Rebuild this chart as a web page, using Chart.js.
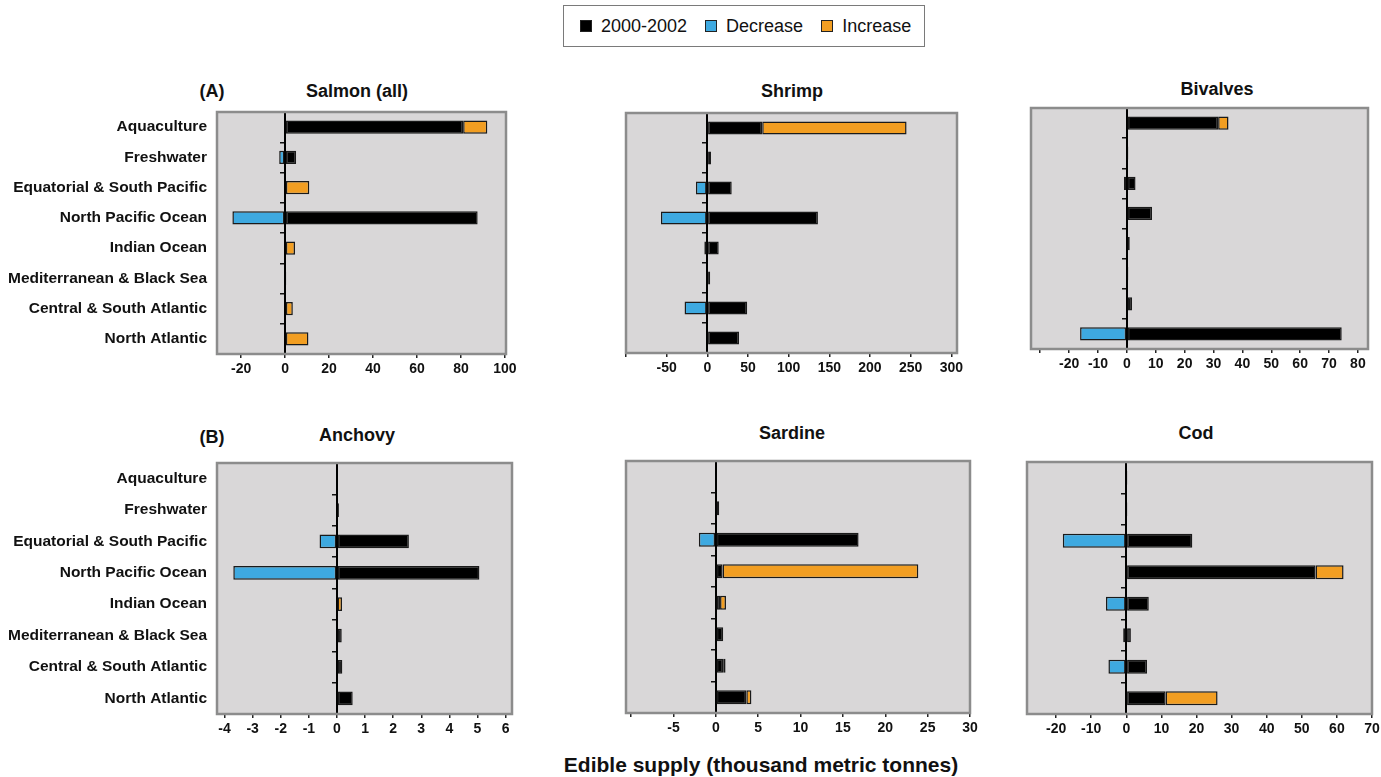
<!DOCTYPE html>
<html>
<head>
<meta charset="utf-8">
<script src="https://cdn.jsdelivr.net/npm/chart.js@4.4.0/dist/chart.umd.min.js"></script>
<style>
    body { margin: 0; width: 1381px; height: 777px; background: #fff; position: relative; overflow: hidden;
           font-family: "Liberation Sans", Arial, sans-serif; color: #111; }
    canvas { position: absolute; }
    .ttl { position: absolute; font-weight: bold; font-size: 18px; transform: translate(-50%, -50%); white-space: nowrap; }
    .cap { font-size: 21px; }
    #legend { position: absolute; left: 563px; top: 5px; width: 362px; height: 42px; box-sizing: border-box;
              border: 1.5px solid #7a7a7a; display: flex; align-items: center; padding-left: 16px; font-size: 18px;
              white-space: nowrap; }
    #legend .sq { display: inline-block; width: 10px; height: 10px; border: 1px solid #222; margin-right: 9px; flex: none; }
    #legend .it { display: flex; align-items: center; margin-right: 18px; flex: none; }
</style>
</head>
<body>

<div id="legend">
    <span class="it"><span class="sq" style="background:#000"></span>2000-2002</span>
    <span class="it"><span class="sq" style="background:#3ea9e0"></span>Decrease</span>
    <span class="it"><span class="sq" style="background:#f29e22"></span>Increase</span>
</div>

<div class="ttl" style="left:212px;top:91px">(A)</div>
<div class="ttl" style="left:357px;top:91px">Salmon (all)</div>
<div class="ttl" style="left:792px;top:91px">Shrimp</div>
<div class="ttl" style="left:1217px;top:89px">Bivalves</div>
<div class="ttl" style="left:212px;top:437px">(B)</div>
<div class="ttl" style="left:357px;top:435px">Anchovy</div>
<div class="ttl" style="left:792px;top:433px">Sardine</div>
<div class="ttl" style="left:1196px;top:433px">Cod</div>
<div class="ttl cap" style="left:761px;top:765px">Edible supply (thousand metric tonnes)</div>

<script>
    // 지역 (위에서 아래 순서)
    var categories = ['Aquaculture', 'Freshwater', 'Equatorial & South Pacific', 'North Pacific Ocean',
                      'Indian Ocean', 'Mediterranean & Black Sea', 'Central & South Atlantic', 'North Atlantic'];

    // 2000-2002 / Increase / Decrease
    var salmonBase     = [81, 5, 0, 87.6, 0, 0.5, 0, 0];
    var salmonIncrease = [11, 0, 11, 0, 4.5, 0, 3.5, 10.6];
    var salmonDecrease = [0, -2.7, 0, -24, 0, 0, 0, 0];

    var shrimpBase     = [67.5, 4.5, 30, 136, 14, 3.5, 49, 39];
    var shrimpIncrease = [177.5, 0, 0, 0, 0, 0, 0, 0];
    var shrimpDecrease = [0, 0, -14, -57, -3.7, -1.5, -28, 0];

    var bivalvesBase     = [31.6, 0.5, 3, 8.7, 1, 0.5, 1.8, 74.4];
    var bivalvesIncrease = [3.6, 0, 0, 0, 0, 0, 0, 0];
    var bivalvesDecrease = [0, 0, -1, 0, 0, 0, 0, -16.2];

    var anchovyBase     = [0, 0.07, 2.56, 5.07, 0.02, 0.17, 0.19, 0.56];
    var anchovyIncrease = [0, 0, 0, 0, 0.16, 0, 0, 0];
    var anchovyDecrease = [0, 0, -0.62, -3.69, 0, 0, 0, 0];

    var sardineBase     = [0, 0, 16.85, 0.8, 0.5, 0.87, 0.87, 3.6];
    var sardineIncrease = [0, 0.4, 0, 23.1, 0.7, 0, 0.28, 0.6];
    var sardineDecrease = [0, 0, -2, 0, 0, 0, 0, 0];

    var codBase     = [0.3, 0.3, 18.8, 53.9, 6.4, 1.3, 5.9, 11.2];
    var codIncrease = [0, 0, 0, 8, 0, 0, 0, 14.8];
    var codDecrease = [0, 0, -18.1, 0, -5.8, -0.9, -5.1, 0];

    // x축 눈금
    var salmonTicks   = [-20, 0, 20, 40, 60, 80, 100];
    var shrimpTicks   = [-100, -50, 0, 50, 100, 150, 200, 250, 300];
    var bivalvesTicks = [-30, -20, -10, 0, 10, 20, 30, 40, 50, 60, 70, 80];
    var anchovyTicks  = [-4, -3, -2, -1, 0, 1, 2, 3, 4, 5, 6];
    var sardineTicks  = [-10, -5, 0, 5, 10, 15, 20, 25, 30];
    var codTicks      = [-20, -10, 0, 10, 20, 30, 40, 50, 60, 70];

    // 패널 배치 (box = 플롯 영역 left, top, right, bottom)
    var panels = [
        { base: salmonBase, inc: salmonIncrease, dec: salmonDecrease, ticks: salmonTicks, min: -31, max: 100.5, labels: true, box: [217, 112, 506, 354] },
        { base: shrimpBase, inc: shrimpIncrease, dec: shrimpDecrease, ticks: shrimpTicks, min: -100, max: 307, blank: -100, box: [626, 113, 957, 353] },
        { base: bivalvesBase, inc: bivalvesIncrease, dec: bivalvesDecrease, ticks: bivalvesTicks, min: -33.2, max: 83.5, blank: -30, box: [1031, 108, 1368, 349] },
        { base: anchovyBase, inc: anchovyIncrease, dec: anchovyDecrease, ticks: anchovyTicks, min: -4.27, max: 6.23, labels: true, box: [217, 463, 512, 714] },
        { base: sardineBase, inc: sardineIncrease, dec: sardineDecrease, ticks: sardineTicks, min: -10.6, max: 30, blank: -10, box: [626, 461, 970, 713] },
        { base: codBase, inc: codIncrease, dec: codDecrease, ticks: codTicks, min: -28.3, max: 70, box: [1027, 462, 1372, 714] }
    ];

    // 회색 플롯 배경 + 테두리
    var plotBox = {
        id: 'plotBox',
        beforeDraw: function(chart) {
            var a = chart.chartArea, ctx = chart.ctx;
            ctx.save();
            ctx.fillStyle = '#d9d7d8';
            ctx.fillRect(a.left, a.top, a.right - a.left, a.bottom - a.top);
            ctx.restore();
        },
        afterDraw: function(chart) {
            var a = chart.chartArea, ctx = chart.ctx;
            ctx.save();
            ctx.strokeStyle = '#8c8c8c';
            ctx.lineWidth = 2.5;
            ctx.strokeRect(a.left, a.top, a.right - a.left, a.bottom - a.top);
            ctx.restore();
        }
    };

    function barSet(label, data, color) {
        return {
            label: label,
            data: data,
            backgroundColor: color,
            borderColor: '#1a1a1a',
            borderWidth: 1.5,
            borderSkipped: false,
            inflateAmount: 0,
            barPercentage: 0.44,
            categoryPercentage: 1
        };
    }

    function drawPanel(p) {
        var leftPad = p.labels ? 217 : 20;
        var left = p.box[0] - leftPad;
        var top = p.box[1] - 12;
        var width = p.box[2] - left + 24;
        var height = p.box[3] - top + 30;

        var canvas = document.createElement('canvas');
        canvas.width = width;
        canvas.height = height;
        canvas.style.left = left + 'px';
        canvas.style.top = top + 'px';
        document.body.appendChild(canvas);

        new Chart(canvas.getContext('2d'), {
            type: 'bar',
            data: {
                labels: categories,
                datasets: [
                    barSet('2000-2002', p.base, '#000000'),
                    barSet('Increase', p.inc, '#f29e22'),
                    barSet('Decrease', p.dec, '#3ea9e0')
                ]
            },
            options: {
                indexAxis: 'y',
                responsive: false,
                animation: false,
                devicePixelRatio: 1,
                layout: { padding: { left: p.labels ? 0 : 20, top: 12, right: 24, bottom: 0 } },
                plugins: { legend: { display: false }, tooltip: { enabled: false } },
                scales: {
                    x: {
                        stacked: true,
                        min: p.min,
                        max: p.max,
                        afterBuildTicks: function(axis) {
                            axis.ticks = p.ticks.map(function(v) { return { value: v }; });
                        },
                        afterFit: function(axis) { axis.height = 30; },
                        ticks: {
                            autoSkip: false,
                            maxRotation: 0,
                            padding: 3,
                            color: '#111',
                            font: { family: '"Liberation Sans", Arial', size: 14, weight: 'bold' },
                            callback: function(v) { return v === p.blank ? '' : v; }
                        },
                        grid: { drawOnChartArea: false, tickLength: 4, color: '#222', lineWidth: 1.5 },
                        border: { display: false }
                    },
                    y: {
                        stacked: true,
                        display: !!p.labels,
                        afterFit: function(axis) { if (p.labels) axis.width = 217; },
                        ticks: {
                            padding: 0,
                            color: '#111',
                            font: { family: '"Liberation Sans", Arial', size: 15.5, weight: 'bold' }
                        },
                        // 눈금선은 숨기고 라벨 간격만 tickLength로
                        grid: { display: false, drawTicks: true, tickLength: 10 },
                        border: { display: false }
                    },
                    // x=0 위치의 세로축 (구간 눈금 포함)
                    y2: {
                        type: 'category',
                        axis: 'y',
                        position: { x: 0 },
                        offset: true,
                        ticks: { display: false },
                        grid: { offset: true, drawOnChartArea: false, tickLength: 4, color: '#111', lineWidth: 1.5 },
                        border: { color: '#000', width: 2 }
                    }
                }
            },
            plugins: [plotBox]
        });
    }

    panels.forEach(drawPanel);
</script>
</body>
</html>
